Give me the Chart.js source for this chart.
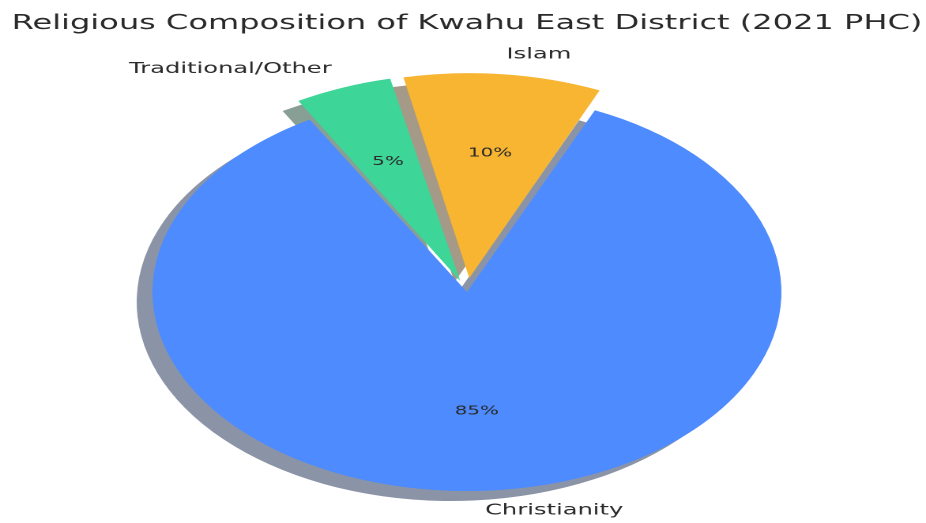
<!DOCTYPE html>
<html>
<head>
<meta charset="utf-8">
<script src="https://cdn.jsdelivr.net/npm/chart.js@4.4.1/dist/chart.umd.min.js"></script>
<style>
  html, body { margin: 0; padding: 0; background: #fff; overflow: hidden; }
  /* the source figure is stretched sideways, so the whole chart is too */
  #wrap { position: absolute; left: 0; top: 0; width: 586px; height: 523px;
          transform: scaleX(1.5802); transform-origin: 0 0; }
</style>
</head>
<body>
<div id="wrap"><canvas id="myChart"></canvas></div>
<script>
// drawn clockwise from the top-left edge
const categories = ['Traditional/Other', 'Islam', 'Christianity'];
const shares = [5, 10, 85];
const sliceColors = ['#3dd598', '#f7b532', '#4d8bff'];
const explodePx = [20, 20, 0];

const titleText = 'Religious Composition of Kwahu East District (2021 PHC)';
const textColor = '#2a2a2a';

// Chart.js moves an arc by offset/4 * (2 - sin(min(pi, circumference)))
const total = shares.reduce((a, b) => a + b, 0);
const arcOffsets = shares.map((v, i) => {
  const circ = v / total * 2 * Math.PI;
  const k = (2 - Math.sin(Math.min(Math.PI, circ))) / 4;
  return explodePx[i] / k;
});

function shift(arc) {
  const p = arc.getProps(['x', 'y', 'startAngle', 'endAngle', 'outerRadius', 'circumference']);
  const off = arc.options.offset || 0;
  const t = off / 4 * (2 - Math.sin(Math.min(Math.PI, p.circumference || 0)));
  const mid = (p.startAngle + p.endAngle) / 2;
  return { p, mid, cx: p.x + Math.cos(mid) * t, cy: p.y + Math.sin(mid) * t };
}

function darken(hex) {
  const n = parseInt(hex.slice(1), 16);
  const r = Math.round(((n >> 16) & 255) * 0.3);
  const g = Math.round(((n >> 8) & 255) * 0.3);
  const b = Math.round((n & 255) * 0.3);
  return `rgba(${r},${g},${b},0.5)`;
}

const shadowPlugin = {
  id: 'pieShadow',
  beforeDatasetsDraw(chart) {
    const ctx = chart.ctx;
    const meta = chart.getDatasetMeta(0);
    ctx.save();
    meta.data.forEach((arc, i) => {
      const s = shift(arc);
      ctx.beginPath();
      ctx.moveTo(s.cx - 10, s.cy + 10);
      ctx.arc(s.cx - 10, s.cy + 10, s.p.outerRadius, s.p.startAngle, s.p.endAngle);
      ctx.closePath();
      ctx.fillStyle = darken(sliceColors[i]);
      ctx.fill();
    });
    ctx.restore();
  }
};

const labelPlugin = {
  id: 'pieLabels',
  afterDatasetsDraw(chart) {
    const ctx = chart.ctx;
    const meta = chart.getDatasetMeta(0);
    ctx.save();
    ctx.fillStyle = textColor;

    // title
    ctx.font = '20.3px "DejaVu Sans"';
    ctx.textAlign = 'center';
    ctx.textBaseline = 'alphabetic';
    const area = chart.chartArea;
    ctx.fillText(titleText, (area.left + area.right) / 2, 29);

    meta.data.forEach((arc, i) => {
      const s = shift(arc);
      const r = s.p.outerRadius;
      const dx = Math.cos(s.mid), dy = Math.sin(s.mid);
      ctx.textBaseline = 'middle';

      ctx.font = '12.6px "DejaVu Sans"';
      ctx.textAlign = 'center';
      const pct = Math.round(shares[i] / total * 100) + '%';
      ctx.fillText(pct, s.cx + dx * r * 0.6, s.cy + dy * r * 0.6);

      ctx.font = '15.3px "DejaVu Sans"';
      ctx.textAlign = dx > 0 ? 'left' : 'right';
      ctx.fillText(categories[i], s.cx + dx * r * 1.1, s.cy + dy * r * 1.1);
    });
    ctx.restore();
  }
};

const ctx = document.getElementById('myChart').getContext('2d');

const pieConfig = {
  type: 'pie',
  data: {
    labels: categories,
    datasets: [{
      data: shares,
      backgroundColor: sliceColors,
      borderWidth: 0,
      offset: arcOffsets
    }]
  },
  options: {
    responsive: true,
    maintainAspectRatio: false,
    animation: false,
    devicePixelRatio: 2,
    rotation: -30,
    layout: { padding: { top: 64.7, bottom: 3.65, left: 40, right: 35 } },
    plugins: {
      legend: { display: false },
      tooltip: { enabled: false },
      title: { display: false }
    }
  },
  plugins: [shadowPlugin, labelPlugin]
};

const myChart = new Chart(ctx, pieConfig);
</script>
</body>
</html>
